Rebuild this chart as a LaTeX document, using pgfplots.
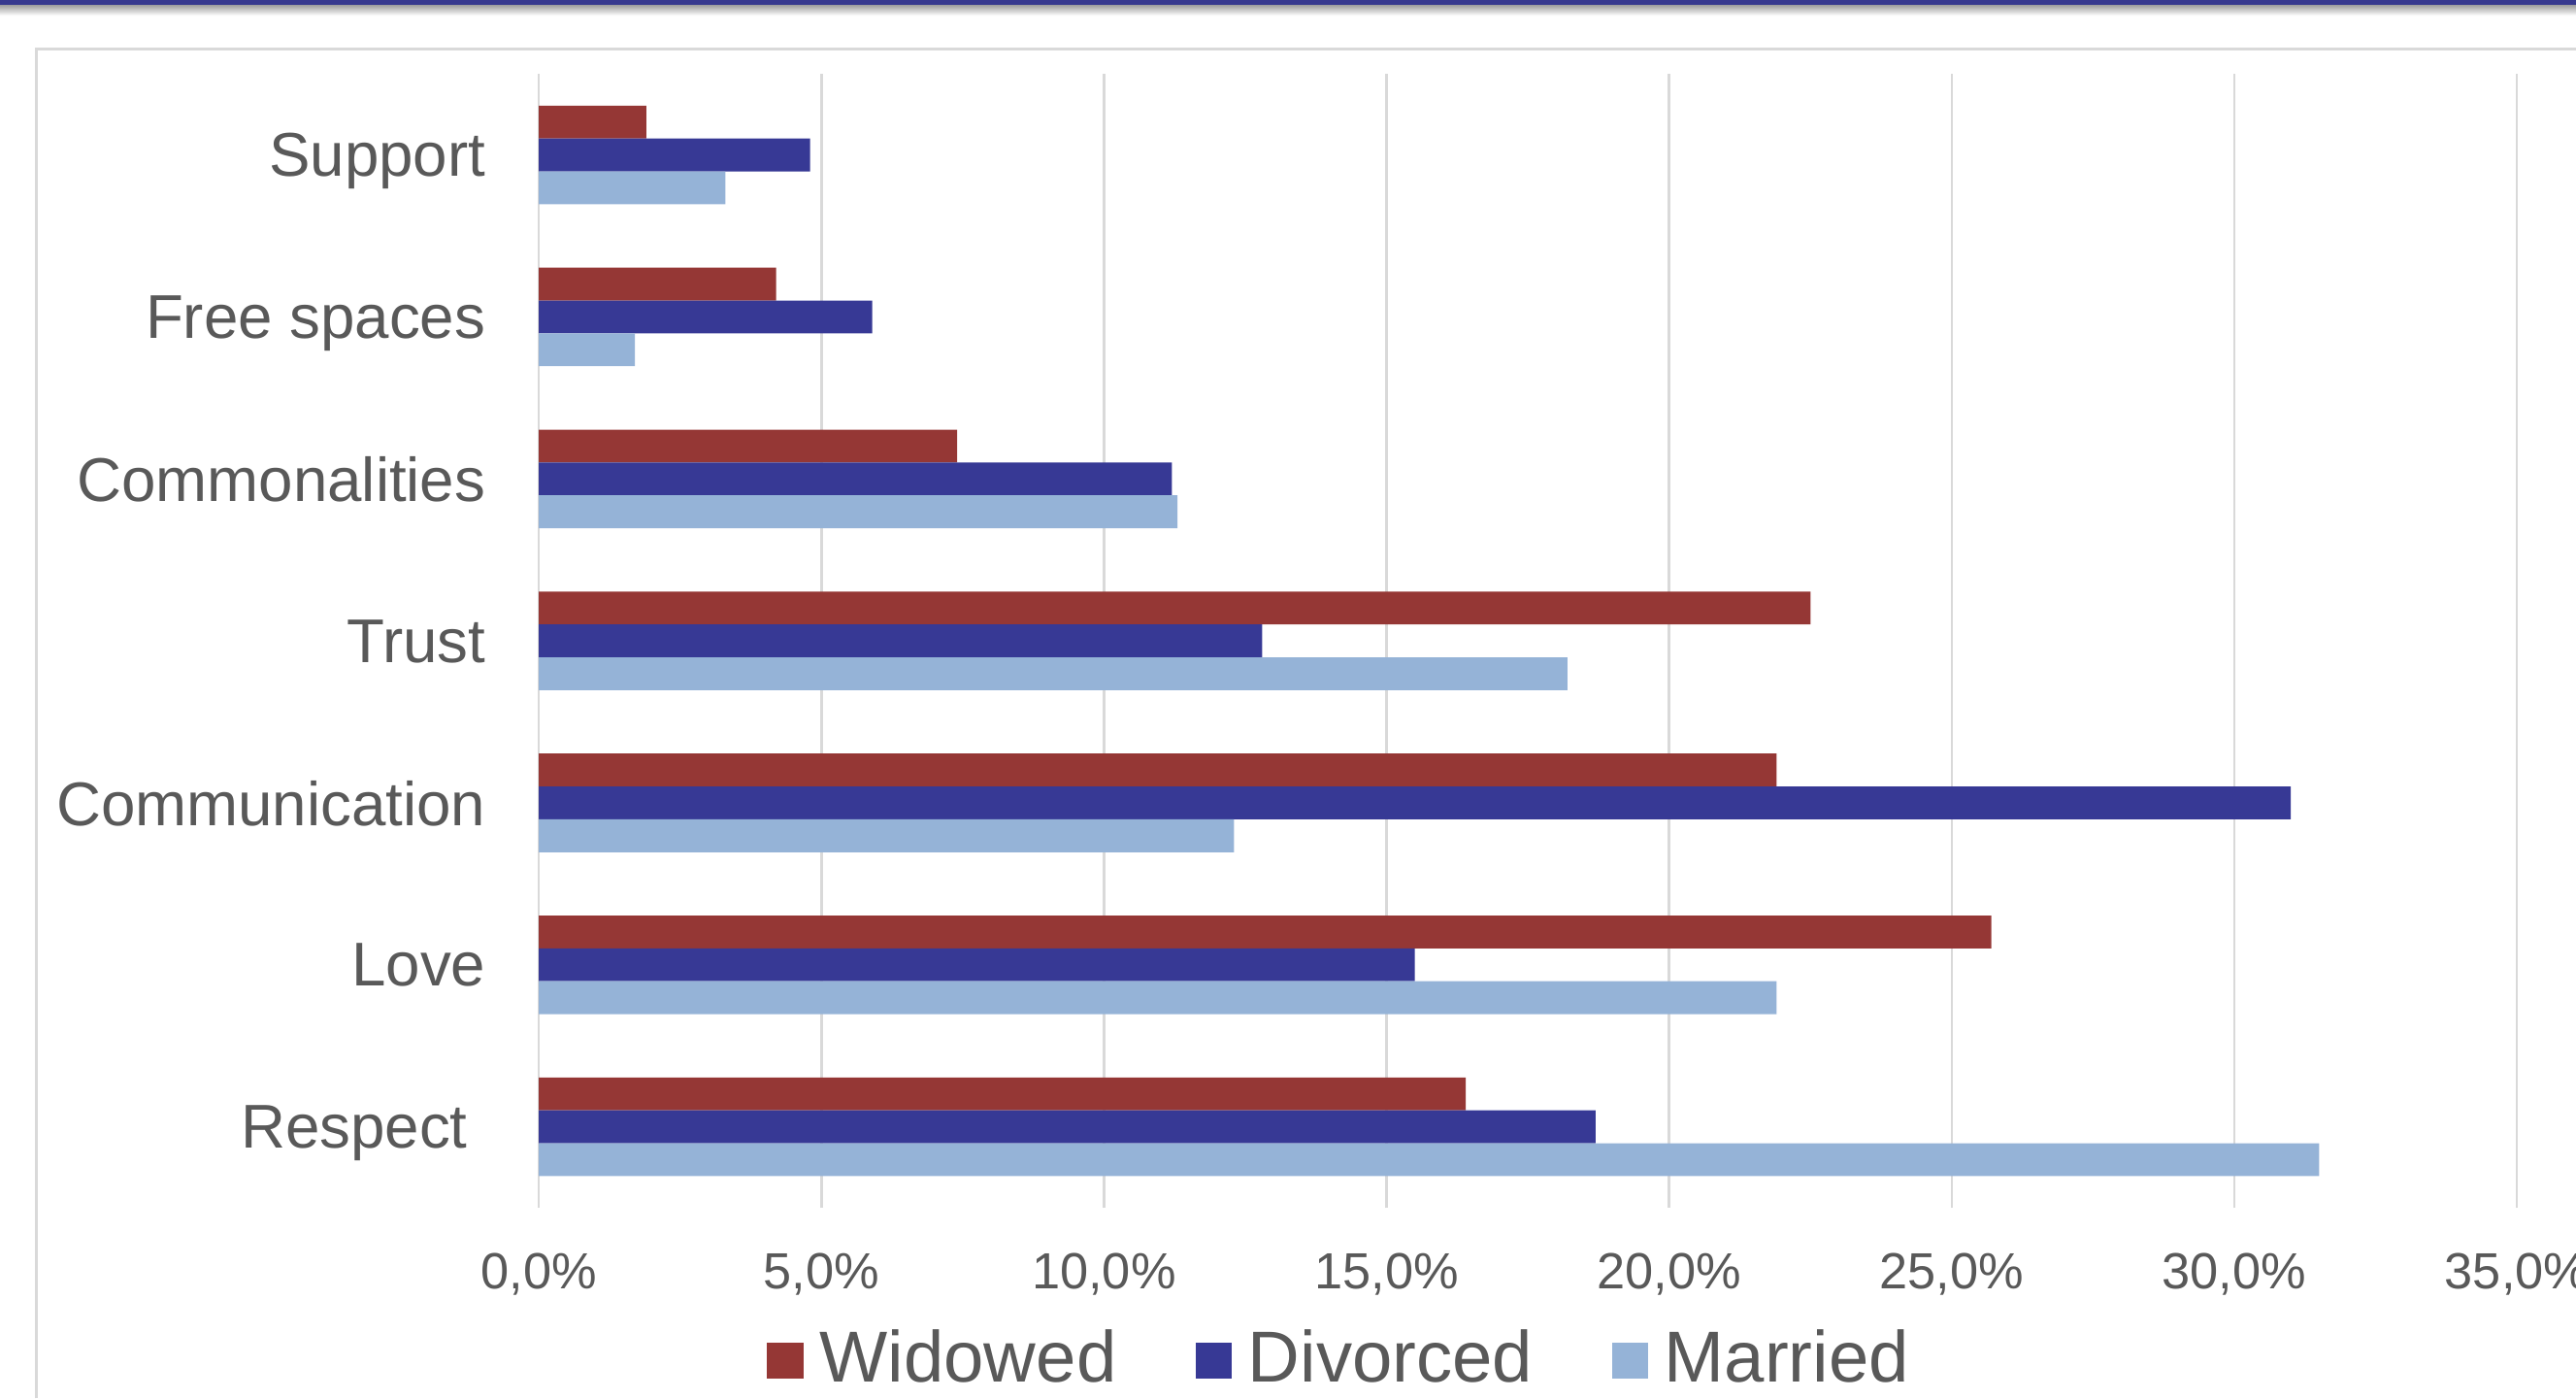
\documentclass[border=0pt]{standalone}
\usepackage{pgfplots}
\pgfplotsset{compat=1.18}
\usepackage{fontspec}
\setmainfont{Liberation Sans}
\definecolor{widowed}{HTML}{953735}
\definecolor{divorced}{HTML}{373995}
\definecolor{married}{HTML}{95B3D7}
\definecolor{txt}{HTML}{595959}
\definecolor{gridc}{HTML}{D9D9D9}
\definecolor{band}{HTML}{37398F}
\begin{document}
\begin{tikzpicture}
% page: 156.8mm x 85.1mm, origin at lower left corner of the plot area
\useasboundingbox (-32.8mm,-11.6mm) rectangle (124mm,73.5mm);
\fill[band] (-32.8mm,73.15mm) rectangle (124mm,73.5mm);
\shade[top color=black!35,bottom color=white] (-32.8mm,72.55mm) rectangle (124mm,73.15mm);
\draw[gridc,line width=0.2mm] (-30.6mm,-11.6mm) -- (-30.6mm,70.5mm) -- (124mm,70.5mm);
\begin{axis}[
    at={(0,0)}, anchor=south west,
    scale only axis,
    width=120.4mm, height=69mm,
    xbar, bar width=2mm,
    xmin=0, xmax=35, ymin=-0.5, ymax=6.5,
    xtick={0,5,...,35},
    xticklabels={{0,0\%},{5,0\%},{10,0\%},{15,0\%},{20,0\%},{25,0\%},{30,0\%},{35,0\%}},
    ytick={0,...,6},
    yticklabels={Respect\kern1.1mm,Love,Communication,Trust,Commonalities,Free spaces,Support},
    xmajorgrids, grid style={gridc,line width=0.15mm},
    axis line style={draw=none}, tick style={draw=none},
    xticklabel style={font=\fontsize{8.8}{10}\selectfont, text=txt, yshift=-1.5mm},
    yticklabel style={font=\fontsize{10.7}{12}\selectfont, text=txt, text depth=0pt, xshift=-0.5mm},
    legend style={at={(0.407,-0.1348)}, anchor=center, draw=none, fill=none,
        legend columns=3, font=\fontsize{12.5}{14}\selectfont, text=txt,
        /tikz/every even column/.append style={column sep=4.1mm}},
    legend image code/.code={\fill[#1,draw=none] (0mm,-1.1mm) rectangle (2.2mm,1.1mm);
        \path (2.5mm,0);},
    clip=false,
]
\addplot[fill=widowed, draw=none, bar shift=2mm] coordinates {
    (16.4,0) (25.7,1) (21.9,2) (22.5,3) (7.4,4) (4.2,5) (1.9,6)};
\addplot[fill=divorced, draw=none, bar shift=0mm] coordinates {
    (18.7,0) (15.5,1) (31.0,2) (12.8,3) (11.2,4) (5.9,5) (4.8,6)};
\addplot[fill=married, draw=none, bar shift=-2mm] coordinates {
    (31.5,0) (21.9,1) (12.3,2) (18.2,3) (11.3,4) (1.7,5) (3.3,6)};
\legend{Widowed,Divorced,Married}
\end{axis}
\end{tikzpicture}
\end{document}
